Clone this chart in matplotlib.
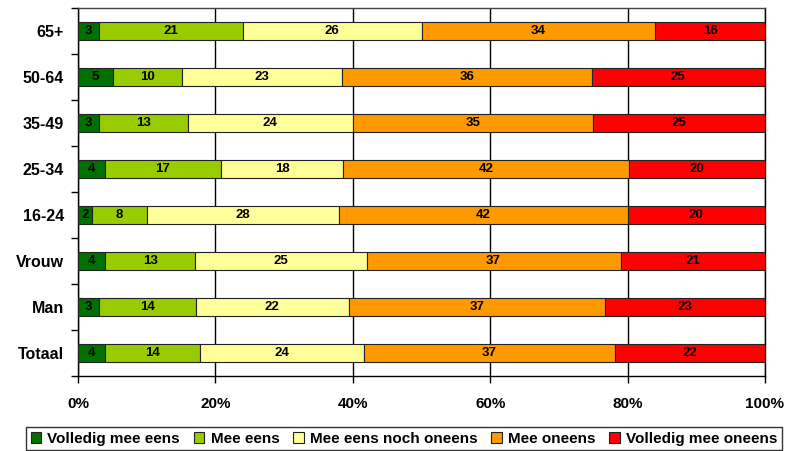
import numpy as np
import matplotlib
matplotlib.use('Agg')
import matplotlib.pyplot as plt

plt.rcParams['font.family'] = ['Liberation Sans', 'DejaVu Sans']

# categories from top to bottom
groepen = ['65+', '50-64', '35-49', '25-34', '16-24', 'Vrouw', 'Man', 'Totaal']
reeksen = ['Volledig mee eens', 'Mee eens', 'Mee eens noch oneens',
           'Mee oneens', 'Volledig mee oneens']

volledig_eens = [3, 5, 3, 4, 2, 4, 3, 4]
mee_eens = [21, 10, 13, 17, 8, 13, 14, 14]
neutraal = [26, 23, 24, 18, 28, 25, 22, 24]
mee_oneens = [34, 36, 35, 42, 42, 37, 37, 37]
volledig_oneens = [16, 25, 25, 20, 20, 21, 23, 22]

kleuren = ['#007000', '#99cc00', '#ffff99', '#ff9900', '#ff0000']

data = np.array([volledig_eens, mee_eens, neutraal, mee_oneens, volledig_oneens], dtype=float)
pct = data / data.sum(axis=0) * 100  # 100% gestapeld

fig = plt.figure(figsize=(7.89, 4.51), dpi=100)
ax = fig.add_axes([78 / 789, 1 - 376 / 451, (765 - 78) / 789, (376 - 8) / 451])

y = np.arange(len(groepen))[::-1]
links = np.zeros(len(groepen))
for i, naam in enumerate(reeksen):
    ax.barh(y, pct[i], left=links, height=0.4, color=kleuren[i],
            edgecolor='#222222', linewidth=0.8, label=naam, zorder=3)
    for j in range(len(groepen)):
        ax.text(links[j] + pct[i][j] / 2, y[j], '%d' % data[i][j],
                ha='center', va='center', fontsize=9.5, fontweight='bold',
                color='black', zorder=4)
    links += pct[i]

ax.set_xlim(0, 100)
ax.set_ylim(-0.5, len(groepen) - 0.5)

ax.set_xticks([0, 20, 40, 60, 80, 100])
ax.set_xticklabels(['0%', '20%', '40%', '60%', '80%', '100%'],
                   fontsize=11, fontweight='bold')
ax.tick_params(axis='x', length=5, width=1, pad=10, color='black')

# labels in het midden, streepjes tussen de groepen
ax.set_yticks(np.arange(-0.5, len(groepen), 1))
ax.set_yticklabels([])
ax.set_yticks(y, minor=True)
ax.set_yticklabels(groepen, minor=True, fontsize=11.5, fontweight='bold')
ax.tick_params(axis='y', which='major', length=5, width=1, direction='out')
ax.tick_params(axis='y', which='minor', length=0, pad=10)

ax.grid(axis='x', color='black', linewidth=1, zorder=0)
ax.set_axisbelow(True)
for s in ax.spines.values():
    s.set_linewidth(1)
    s.set_color('black')
ax.spines['top'].set_color('#444444')

leg = fig.legend(loc='center', bbox_to_anchor=(0.512, 0.027), ncol=5,
                 prop={'weight': 'bold', 'size': 11},
                 frameon=True, fancybox=False, edgecolor='black',
                 handlelength=0.7, handleheight=0.7, handletextpad=0.4,
                 columnspacing=0.9, borderpad=0.3)
leg.get_frame().set_linewidth(1)

fig.savefig('out.png', dpi=100)
